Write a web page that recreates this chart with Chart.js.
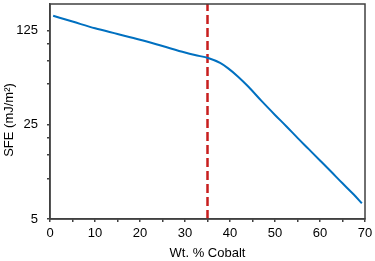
<!DOCTYPE html>
<html>
<head>
<meta charset="utf-8">
<script src="https://cdn.jsdelivr.net/npm/chart.js@4"></script>
<style>
  html, body { margin: 0; padding: 0; background: #fff; }
  #wrap { width: 375px; height: 261px; }
</style>
</head>
<body>
<div id="wrap"><canvas id="sfeChart" width="375" height="261"></canvas></div>
<script>
// SFE vs cobalt content
const cobaltPct = [0.7, 5, 10, 15, 20, 25, 30, 32.2, 35.3, 37.8, 39.6, 41.8, 44.1, 47, 50, 52.5, 55, 57.5, 60, 62.5, 65, 67.5, 69.3];
const sfeValues = [161, 146, 130, 118, 107, 96, 86, 82.4, 78, 72, 65.6, 56.9, 47.9, 37.6, 29.6, 24.4, 20.0, 16.5, 13.6, 11.2, 9.2, 7.6, 6.54];
const markerX = [35, 35];
const markerY = [5, 197];
const yTicks = [5, 10, 15, 20, 25, 50, 75, 100, 125];
const yLabels = [5, 25, 125];
const yTitle = 'SFE (mJ/m²)';

const axisColor = '#404040';
const fontFamily = '"Liberation Sans", Arial, sans-serif';

// box round the plot area + y title (sits a bit below the middle in the original)
const frame = {
    id: 'frame',
    afterDraw(chart) {
        const a = chart.chartArea;
        const ctx = chart.ctx;
        ctx.save();
        ctx.strokeStyle = axisColor;
        ctx.lineWidth = 1.5;
        ctx.strokeRect(a.left, a.top, a.right - a.left, a.bottom - a.top);
        ctx.translate(9, 120);
        ctx.rotate(-Math.PI / 2);
        ctx.fillStyle = '#000';
        ctx.font = '13px ' + fontFamily;
        ctx.textAlign = 'center';
        ctx.textBaseline = 'middle';
        ctx.fillText(yTitle, 0, 0);
        ctx.restore();
    }
};

const ctx = document.getElementById('sfeChart').getContext('2d');
new Chart(ctx, {
    type: 'line',
    data: {
        datasets: [{
            data: cobaltPct.map((x, i) => ({ x: x, y: sfeValues[i] })),
            borderColor: '#0070C0',
            borderWidth: 2,
            pointRadius: 0,
            cubicInterpolationMode: 'monotone',
            fill: false
        }, {
            data: markerX.map((x, i) => ({ x: x, y: markerY[i] })),
            borderColor: '#C81E1E',
            borderWidth: 2.5,
            borderDash: [9, 4],
            pointRadius: 0,
            fill: false
        }]
    },
    options: {
        responsive: false,
        animation: false,
        layout: { padding: { top: 4, right: 10, left: 0, bottom: 0 } },
        plugins: { legend: { display: false }, tooltip: { enabled: false } },
        scales: {
            x: {
                type: 'linear',
                min: 0,
                max: 70,
                ticks: {
                    stepSize: 5,
                    autoSkip: false,
                    maxRotation: 0,
                    color: '#000',
                    font: { family: fontFamily, size: 13 },
                    padding: 4,
                    callback: v => (v % 10 === 0 ? v : '')
                },
                grid: { drawOnChartArea: false, drawTicks: true, tickLength: 3, color: axisColor, lineWidth: 1.5 },
                border: { color: axisColor, width: 1.5 },
                title: { display: true, text: 'Wt. % Cobalt', color: '#000', font: { family: fontFamily, size: 13 }, padding: { top: 0, bottom: 0 } },
                afterFit(scale) {
                    scale.height = 42;
                    scale.paddingLeft = 0;
                    scale.paddingRight = 0;
                }
            },
            y: {
                type: 'logarithmic',
                min: 5,
                max: 197,
                afterBuildTicks(scale) { scale.ticks = yTicks.map(v => ({ value: v })); },
                ticks: {
                    autoSkip: false,
                    color: '#000',
                    font: { family: fontFamily, size: 13 },
                    padding: 9,
                    callback: v => (yLabels.includes(v) ? String(v) : '')
                },
                grid: { drawOnChartArea: false, drawTicks: true, tickLength: 3, color: axisColor, lineWidth: 1.5 },
                border: { color: axisColor, width: 1.5 },
                afterFit(scale) {
                    scale.width = 50;
                    scale.paddingTop = 0;
                    scale.paddingBottom = 0;
                }
            }
        }
    },
    plugins: [frame]
});
</script>
</body>
</html>
